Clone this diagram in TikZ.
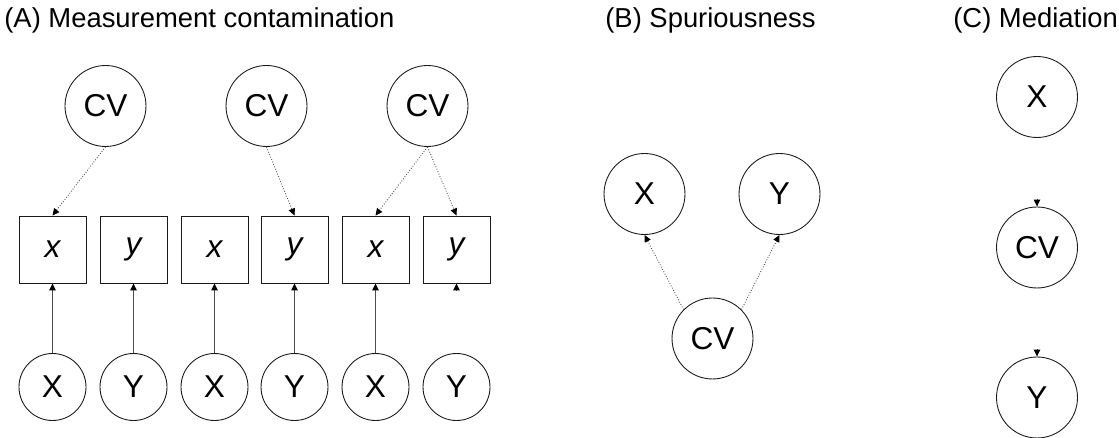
\documentclass[tikz,border=0pt]{standalone}
\usepackage{fontspec}
\setmainfont{Liberation Sans}
\usetikzlibrary{arrows.meta,positioning}
\definecolor{inkgray}{HTML}{1A1A1A}
\definecolor{linegray}{HTML}{4D4D4D}

\begin{document}
\begin{tikzpicture}[
  x=0.02cm,y=-0.02cm,
  latent/.style={draw=inkgray,circle,minimum size=1.62cm,inner sep=0pt,line width=0.5pt,font=\fontsize{18}{20}\selectfont},
  obs/.style={draw=inkgray,circle,minimum size=1.34cm,inner sep=0pt,line width=0.5pt,font=\fontsize{18}{20}\selectfont},
  item/.style={draw=inkgray,rectangle,minimum size=1.34cm,inner sep=0pt,line width=0.5pt,font=\fontsize{18}{20}\selectfont\itshape},
  title/.style={anchor=base west,inner sep=0pt,font=\fontsize{15.6}{19}\selectfont},
  arrow/.style={-{Triangle[length=1.4mm,width=1.3mm,color=black]},draw=linegray,line width=0.5pt},
  contam/.style={arrow,densely dotted}
]
\useasboundingbox (0,0) rectangle (1119,438);

% (A) measurement contamination
\node[title] (titleA) at (4,28) {(A) Measurement contamination};
\node[latent] (cvA1) at (105.5,106) {CV};
\node[latent] (cvA2) at (266.5,106) {CV};
\node[latent] (cvA3) at (427.5,106) {CV};
\node[item] (x1) at (52.5,249.5) {x};
\node[item] (y1) at (133.5,249.5) {y};
\node[item] (x2) at (214.5,249.5) {x};
\node[item] (y2) at (294.5,249.5) {y};
\node[item] (x3) at (375.5,249.5) {x};
\node[item] (y3) at (456.5,249.5) {y};
\node[obs] (X1) at (52.5,387) {X};
\node[obs] (Y1) at (133.5,387) {Y};
\node[obs] (X2) at (214.5,387) {X};
\node[obs] (Y2) at (294.5,387) {Y};
\node[obs] (X3) at (375.5,387) {X};
\node[obs] (Y3) at (456.5,387) {Y};
\coordinate (y3in) at (456.5,290.5);
\draw[contam] (cvA1.south) -- (x1.north);
\draw[contam] (cvA2.south) -- (y2.north);
\draw[contam] (cvA3.south) -- (x3.north);
\draw[contam] (cvA3.south) -- (y3.north);
\draw[arrow] (X1) -- (x1);
\draw[arrow] (Y1) -- (y1);
\draw[arrow] (X2) -- (x2);
\draw[arrow] (Y2) -- (y2);
\draw[arrow] (X3) -- (x3);
\draw[arrow] (y3in) -- (y3.south);

% (B) spuriousness
\node[title] (titleB) at (605,28) {(B) Spuriousness};
\node[latent] (xB) at (644.5,194) {X};
\node[latent] (yB) at (779.5,194) {Y};
\node[latent] (cvB) at (712.5,338.5) {CV};
\draw[contam] (cvB.135) -- (xB.south);
\draw[contam] (cvB.45) -- (yB.south);

% (C) mediation
\node[title] (titleC) at (953,28) {(C) Mediation};
\node[latent] (xC) at (1037,97) {X};
\node[latent] (cvC) at (1037,247.5) {CV};
\node[latent] (yC) at (1037,397.5) {Y};
\coordinate (cvin) at (1037,199.5);
\coordinate (yin) at (1037,349.5);
\draw[arrow] (cvin) -- (cvC.north);
\draw[arrow] (yin) -- (yC.north);
\end{tikzpicture}
\end{document}
